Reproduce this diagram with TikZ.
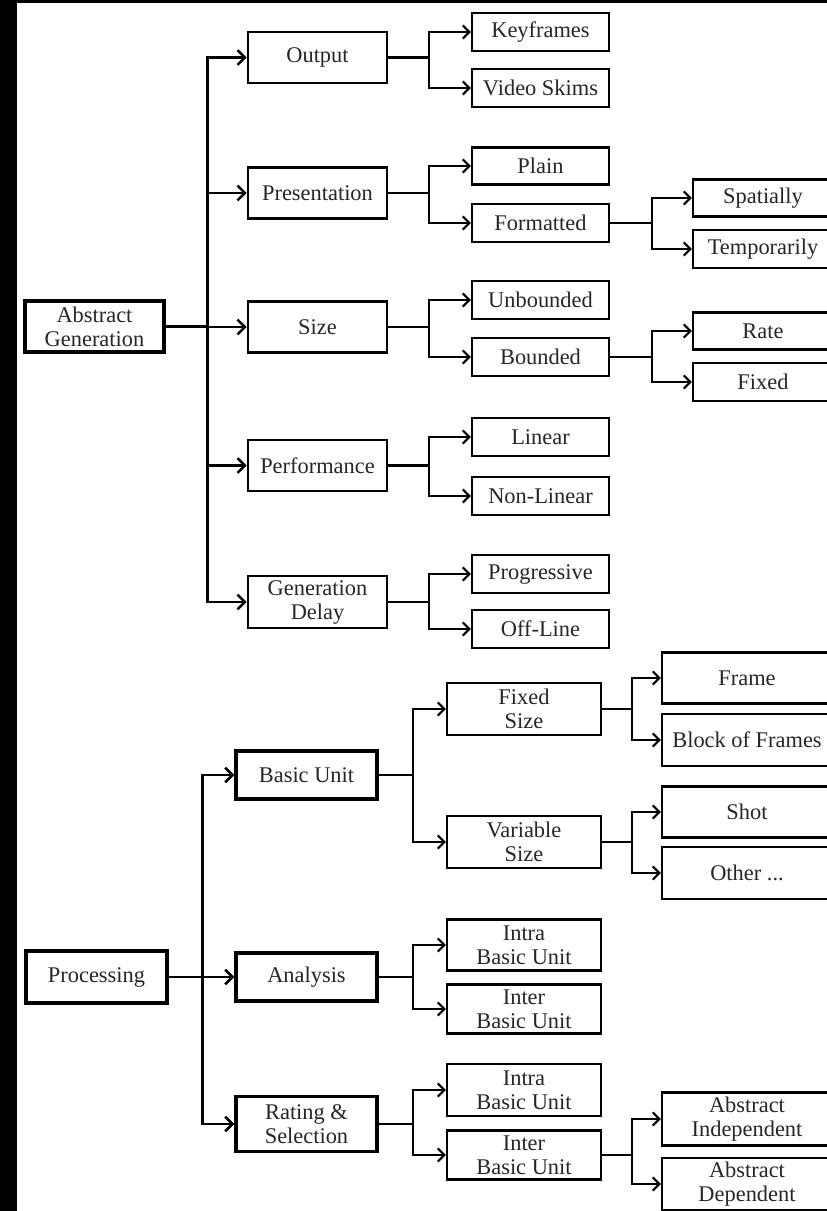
\documentclass[tikz,border=0pt]{standalone}
\usepackage{fontspec}
\setmainfont{Liberation Serif}
\usetikzlibrary{arrows.meta}
\begin{document}
\begin{tikzpicture}[x=0.75pt,y=-0.75pt,
  base/.style={draw=black, fill=white, inner sep=0pt, align=center,
    font=\fontsize{16.8}{18}\selectfont, text=black!85, line join=miter},
  rootbox/.style={base, line width=2.6pt},
  midbox/.style={base, line width=2.1pt},
  leafbox/.style={base, line width=1.7pt},
  sz/.style 2 args={minimum width=#1*0.75pt, minimum height=#2*0.75pt},
  trunk/.style={line width=1.9pt, -{Straight Barb[length=5.5pt,width=11pt]}},
  branch/.style={line width=1.6pt, -{Straight Barb[length=5pt,width=10pt]}},
]
% page frame
\useasboundingbox (0,0) rectangle (827,1211);
\fill[black] (0,0) rectangle (827,1211);
\fill[white] (17,3) rectangle (827,1211);

% ---------------- Abstract generation ----------------
\node[rootbox, sz={139}{51}] (ag) at (94.5,326.5) {Abstract\\Generation};

\node[midbox, sz={139}{51}] (out)  at (317.5,57.5) {Output};
\node[midbox, sz={139}{51}] (pres) at (317.5,193)  {Presentation};
\node[midbox, sz={139}{51}] (size) at (317.5,327)  {Size};
\node[midbox, sz={139}{51}] (perf) at (317.5,465.5){Performance};
\node[midbox, sz={139}{52}] (gd)   at (317.5,602)  {Generation\\Delay};

\node[leafbox, sz={137}{38}] (kf)     at (540.5,32)  {Keyframes};
\node[leafbox, sz={137}{38}] (vs)     at (540.5,88)  {Video Skims};
\node[leafbox, sz={137}{37}] (plain)  at (540.5,166) {Plain};
\node[leafbox, sz={137}{38}] (fmt)    at (540.5,223) {Formatted};
\node[leafbox, sz={137}{38}] (unb)    at (540.5,300) {Unbounded};
\node[leafbox, sz={137}{38}] (bnd)    at (540.5,357) {Bounded};
\node[leafbox, sz={137}{38}] (lin)    at (540.5,437) {Linear};
\node[leafbox, sz={137}{38}] (nonlin) at (540.5,496) {Non-Linear};
\node[leafbox, sz={137}{38}] (prog)   at (540.5,574) {Progressive};
\node[leafbox, sz={137}{38}] (off)    at (540.5,629) {Off-Line};

\node[leafbox, sz={140}{37}] (spat)  at (763,198) {Spatially};
\node[leafbox, sz={140}{38}] (temp)  at (763,249) {Temporarily};
\node[leafbox, sz={140}{37}] (rate)  at (763,331) {Rate};
\node[leafbox, sz={140}{38}] (fixd)  at (763,382) {Fixed};

\foreach \c in {out,pres,size,perf,gd}
  \draw[trunk] (ag.east) -- ++(42,0) |- (\c.west);
\draw[branch] (out.east)  -- ++(41,0) |- (kf.west);
\draw[branch] (out.east)  -- ++(41,0) |- (vs.west);
\draw[branch] (pres.east) -- ++(41,0) |- (plain.west);
\draw[branch] (pres.east) -- ++(41,0) |- (fmt.west);
\draw[branch] (size.east) -- ++(41,0) |- (unb.west);
\draw[branch] (size.east) -- ++(41,0) |- (bnd.west);
\draw[branch] (perf.east) -- ++(41,0) |- (lin.west);
\draw[branch] (perf.east) -- ++(41,0) |- (nonlin.west);
\draw[branch] (gd.east)   -- ++(41,0) |- (prog.west);
\draw[branch] (gd.east)   -- ++(41,0) |- (off.west);
\draw[branch] (fmt.east)  -- ++(42,0) |- (spat.west);
\draw[branch] (fmt.east)  -- ++(42,0) |- (temp.west);
\draw[branch] (bnd.east)  -- ++(42,0) |- (rate.west);
\draw[branch] (bnd.east)  -- ++(42,0) |- (fixd.west);

% ---------------- Processing ----------------
\node[rootbox, sz={141}{52}] (proc) at (96.5,977) {Processing};

\node[rootbox, sz={141}{48}] (bu)  at (306.5,775)  {Basic Unit};
\node[rootbox, sz={141}{48}] (ana) at (306.5,977)  {Analysis};
\node[rootbox, sz={141}{55}] (rs)  at (306.5,1124) {Rating \&\\Selection};

\node[leafbox, sz={154}{52}] (fs)     at (524,709)  {Fixed\\Size};
\node[leafbox, sz={154}{52}] (vsz)    at (524,842)  {Variable\\Size};
\node[leafbox, sz={154}{51}] (intra1) at (524,945)  {Intra\\Basic Unit};
\node[leafbox, sz={154}{49}] (inter1) at (524,1009) {Inter\\Basic Unit};
\node[leafbox, sz={154}{52}] (intra2) at (524,1090) {Intra\\Basic Unit};
\node[leafbox, sz={154}{49}] (inter2) at (524,1155) {Inter\\Basic Unit};

\node[leafbox, sz={170}{51}] (frame) at (747,678)  {Frame};
\node[leafbox, sz={170}{52}] (bof)   at (747,740)  {Block of Frames};
\node[leafbox, sz={170}{51}] (shot)  at (747,812)  {Shot};
\node[leafbox, sz={170}{52}] (other) at (747,873)  {Other ...};
\node[leafbox, sz={170}{53}] (ai)    at (747,1119) {Abstract\\Independent};
\node[leafbox, sz={170}{52}] (ad)    at (747,1184) {Abstract\\Dependent};

\foreach \c in {bu,ana,rs}
  \draw[trunk] (proc.east) -- ++(34,0) |- (\c.west);
\draw[branch] (bu.east)  -- ++(34,0) |- (fs.west);
\draw[branch] (bu.east)  -- ++(34,0) |- (vsz.west);
\draw[branch] (ana.east) -- ++(34,0) |- (intra1.west);
\draw[branch] (ana.east) -- ++(34,0) |- (inter1.west);
\draw[branch] (rs.east)  -- ++(34,0) |- (intra2.west);
\draw[branch] (rs.east)  -- ++(34,0) |- (inter2.west);
\draw[branch] (fs.east)  -- ++(30,0) |- (frame.west);
\draw[branch] (fs.east)  -- ++(30,0) |- (bof.west);
\draw[branch] (vsz.east) -- ++(30,0) |- (shot.west);
\draw[branch] (vsz.east) -- ++(30,0) |- (other.west);
\draw[branch] (inter2.east) -- ++(30,0) |- (ai.west);
\draw[branch] (inter2.east) -- ++(30,0) |- (ad.west);
\end{tikzpicture}
\end{document}
